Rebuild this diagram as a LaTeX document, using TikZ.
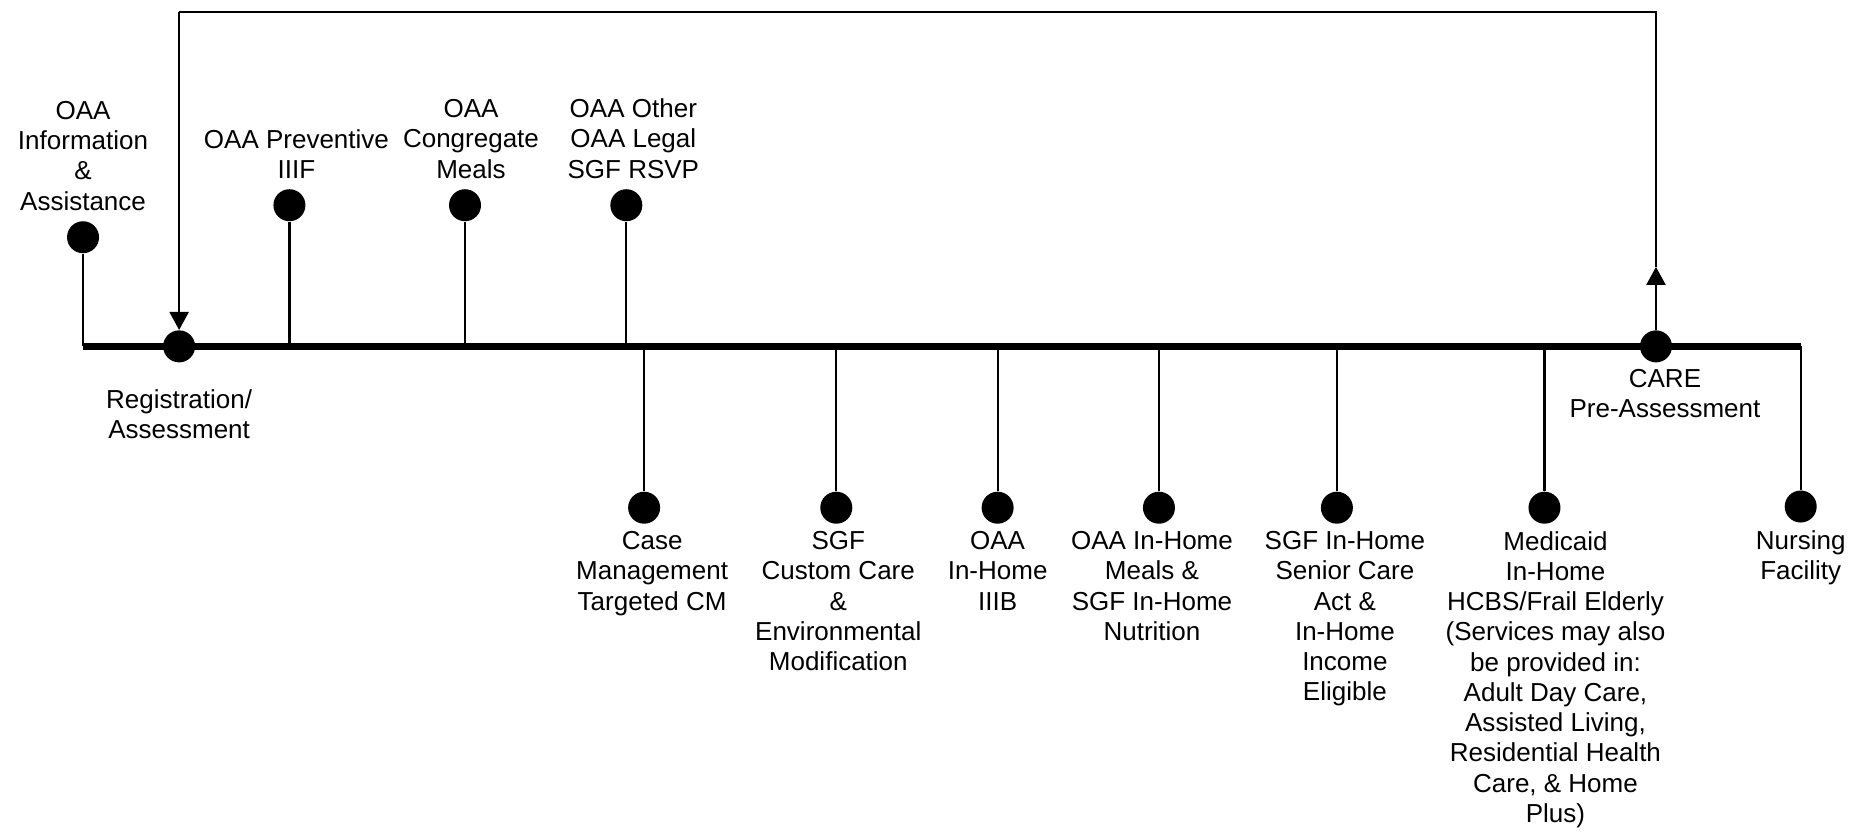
\documentclass[tikz,border=0pt]{standalone}
\usepackage{fontspec}
\setmainfont{Liberation Sans}
\usetikzlibrary{positioning,arrows.meta}

\begin{document}
\begin{tikzpicture}[
  x=0.593pt, y=-0.593pt,
  dot/.style={circle, fill=black, inner sep=0pt, minimum size=16pt},
  txt/.style={align=center, inner sep=1pt, font=\fontsize{13}{15.1}\selectfont},
  stem/.style={line width=1.1pt},
  axis/.style={line width=3.5pt},
  arrow/.style={-{Triangle[width=9.5pt, length=9pt]}, line width=1.1pt}
]
  \useasboundingbox (0,0) rectangle (1568,703);

  % Timeline ends and loop corners
  \coordinate (west) at (70,292);
  \coordinate (east) at (1518,292);
  \coordinate (topL) at (151,10);
  \coordinate (topR) at (1396,10);
  \coordinate (uptip) at (1396,225);

  % Main line
  \draw[axis] (west) -- (east);

  % Dots above the line
  \node[dot] (info) at (70,200) {};
  \node[dot] (prev) at (244,173) {};
  \node[dot] (cong) at (392,173) {};
  \node[dot] (other) at (528,173) {};

  % Dots on the line
  \node[dot] (reg) at (151,292) {};
  \node[dot] (care) at (1396,292) {};

  % Dots below the line
  \node[dot] (case) at (543,428) {};
  \node[dot] (custom) at (705,428) {};
  \node[dot] (iiib) at (841,428) {};
  \node[dot] (meals) at (977,428) {};
  \node[dot] (senior) at (1127,428) {};
  \node[dot] (medic) at (1302,428) {};
  \node[dot] (nurse) at (1518,427) {};

  % Stems
  \draw[stem] (info) -- (west);
  \draw[stem] (east) -- (nurse);
  \foreach \d in {prev, cong, other, case, custom, iiib, meals, senior, medic}
    \draw[stem] (\d) -- (\d |- west);

  % Loop back from CARE to Registration
  \draw[arrow] (care) -- (uptip);
  \draw[stem] (uptip) -- (topR) -- (topL);
  \draw[arrow] (topL) -- (reg);

  % Labels above
  \node[txt, above=4pt of info] (infotxt) {OAA\\Information\\\&\\Assistance};
  \node[txt, above=4pt of prev, xshift=3.5pt] (prevtxt) {OAA Preventive\\IIIF};
  \node[txt, above=4pt of cong, xshift=3pt] (congtxt) {OAA\\Congregate\\Meals};
  \node[txt, above=4pt of other, xshift=3.5pt] (othertxt) {OAA Other\\OAA Legal\\SGF RSVP};

  % Labels on the line
  \node[txt, below=12pt of reg] (regtxt) {Registration/\\Assessment};
  \node[txt, below=2pt of care, xshift=4.5pt] (caretxt) {CARE\\Pre-Assessment};

  % Labels below
  \node[txt, below=2.5pt of case, xshift=4pt] (casetxt) {Case\\Management\\Targeted CM};
  \node[txt, below=2.5pt of custom, xshift=1pt] (customtxt) {SGF\\Custom Care\\\&\\Environmental\\Modification};
  \node[txt, below=2.5pt of iiib] (iiibtxt) {OAA\\In-Home\\IIIB};
  \node[txt, below=2.5pt of meals, xshift=-3.5pt] (mealstxt) {OAA In-Home\\Meals \&\\SGF In-Home\\Nutrition};
  \node[txt, below=2.5pt of senior, xshift=4pt] (seniortxt) {SGF In-Home\\Senior Care\\Act \&\\In-Home\\Income\\Eligible};
  \node[txt, below=2.5pt of medic, xshift=5.5pt] (medictxt) {Medicaid\\In-Home\\HCBS/Frail Elderly\\(Services may also\\be provided in:\\Adult Day Care,\\Assisted Living,\\Residential Health\\Care, \& Home\\Plus)};
  \node[txt, below=2.5pt of nurse] (nursetxt) {Nursing\\Facility};

\end{tikzpicture}
\end{document}
